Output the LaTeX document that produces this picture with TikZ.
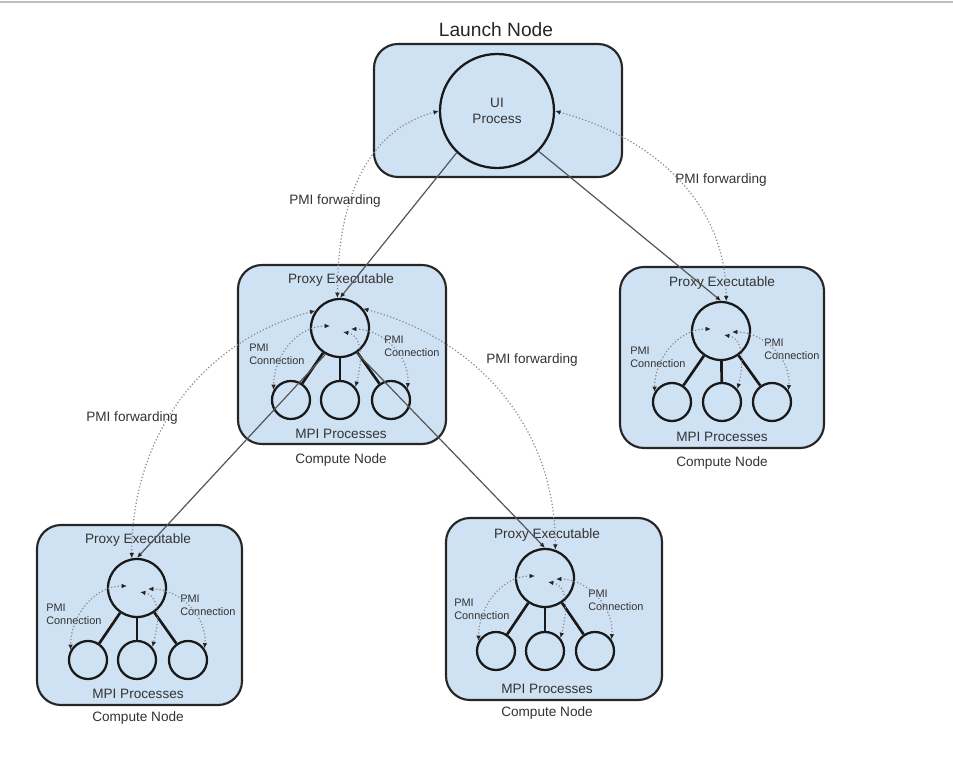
\documentclass[tikz,border=0pt]{standalone}
\usepackage{fontspec}
\setmainfont{Liberation Sans}
\usetikzlibrary{arrows.meta}
\definecolor{nodeblue}{HTML}{CFE2F3}
\definecolor{txtgray}{HTML}{333333}
\definecolor{linegray}{HTML}{555555}
\definecolor{dotgray}{HTML}{8A8A8A}

\begin{document}
\begin{tikzpicture}[x=0.75pt,y=-0.75pt,
  box/.style={draw=black!85,line width=1.6pt,rounded corners=18pt,fill=nodeblue},
  proc/.style={draw=black!90,line width=1.7pt,circle,inner sep=0pt,minimum size=#1},
  proc/.default=43.5pt,
  mpi/.style={proc=28.5pt},
  lbl/.style={text=txtgray,font=\fontsize{10.2}{12.5}\selectfont,inner sep=0pt},
  title/.style={text=black!85,font=\fontsize{14.4}{16}\selectfont,inner sep=0pt},
  small/.style={text=txtgray,font=\fontsize{8.2}{9.6}\selectfont,align=left,inner sep=0pt},
  conn/.style={draw=black!90,line width=2pt},
  launch/.style={draw=linegray,line width=0.9pt,-{Latex[length=4pt,width=3.5pt,color=black!85]}},
  fwd/.style={draw=dotgray,line width=0.9pt,dash pattern=on 0.9pt off 1.6pt,
    {Latex[length=4pt,width=3.5pt,color=black!85]}-{Latex[length=4pt,width=3.5pt,color=black!85]}},
  pmiconn/.style={fwd}]
\useasboundingbox (0,0) rectangle (953,763);
\draw[black!25,line width=0.8pt] (0,2) -- (953,2);

% launch node
\path[box] (374,44) rectangle (622,177);
\node[title] (launch) at (496,30) {Launch Node};
\node[proc=85.5pt,lbl,align=center] (ui) at (497,111) {UI\\Process};

% compute node, middle
\path[box] (238,265) rectangle (446,444);
\node[lbl] (proxyB) at (341,280) {Proxy Executable};
\node[proc] (pB) at (340,328) {};
\node[mpi] (mB1) at (291,400) {};
\node[mpi] (mB2) at (340,400) {};
\node[mpi] (mB3) at (391,400) {};
\node[lbl] (mpiB) at (341,434) {MPI Processes};
\node[lbl] (cnB) at (341,460) {Compute Node};
\node[small,anchor=west] (lcB) at (249,354) {PMI\\Connection};
\node[small,anchor=west] (rcB) at (384,346) {PMI\\Connection};

% compute node, right
\path[box] (620,267) rectangle (824,448);
\node[lbl] (proxyD) at (722,283) {Proxy Executable};
\node[proc] (pD) at (721,331) {};
\node[mpi] (mD1) at (672,402) {};
\node[mpi] (mD2) at (722,402) {};
\node[mpi] (mD3) at (772,402) {};
\node[lbl] (mpiD) at (722,437) {MPI Processes};
\node[lbl] (cnD) at (722,463) {Compute Node};
\node[small,anchor=west] (lcD) at (630,357) {PMI\\Connection};
\node[small,anchor=west] (rcD) at (764,349) {PMI\\Connection};

% compute node, bottom left
\path[box] (37,525) rectangle (242,705);
\node[lbl] (proxyC) at (138,540) {Proxy Executable};
\node[proc] (pC) at (137,588) {};
\node[mpi] (mC1) at (88,660) {};
\node[mpi] (mC2) at (137,660) {};
\node[mpi] (mC3) at (188,660) {};
\node[lbl] (mpiC) at (138,694) {MPI Processes};
\node[lbl] (cnC) at (138,718) {Compute Node};
\node[small,anchor=west] (lcC) at (46,614) {PMI\\Connection};
\node[small,anchor=west] (rcC) at (180,605) {PMI\\Connection};

% compute node, bottom right
\path[box] (446,518) rectangle (662,700);
\node[lbl] (proxyE) at (547,535) {Proxy Executable};
\node[proc] (pE) at (545,578) {};
\node[mpi] (mE1) at (496,651) {};
\node[mpi] (mE2) at (545,651) {};
\node[mpi] (mE3) at (595,651) {};
\node[lbl] (mpiE) at (547,689) {MPI Processes};
\node[lbl] (cnE) at (547,713) {Compute Node};
\node[small,anchor=west] (lcE) at (454,609) {PMI\\Connection};
\node[small,anchor=west] (rcE) at (588,600) {PMI\\Connection};

% proxy to MPI processes
\draw[conn] (pB) -- (mB1); \draw[conn] (pB) -- (mB2); \draw[conn] (pB) -- (mB3);
\draw[conn] (pD) -- (mD1); \draw[conn] (pD) -- (mD2); \draw[conn] (pD) -- (mD3);
\draw[conn] (pC) -- (mC1); \draw[conn] (pC) -- (mC2); \draw[conn] (pC) -- (mC3);
\draw[conn] (pE) -- (mE1); \draw[conn] (pE) -- (mE2); \draw[conn] (pE) -- (mE3);

% PMI connections
\draw[pmiconn] ([shift={(-10,-2)}]pB.center) to[out=180,in=90] (mB1.150);
\draw[pmiconn] ([shift={(3,4)}]pB.center) to[out=-10,in=75] (mB2.40);
\draw[pmiconn] ([shift={(11,1)}]pB.center) to[out=0,in=85] (mB3.35);
\draw[pmiconn] ([shift={(-10,-2)}]pD.center) to[out=180,in=90] (mD1.150);
\draw[pmiconn] ([shift={(3,4)}]pD.center) to[out=-10,in=75] (mD2.40);
\draw[pmiconn] ([shift={(11,1)}]pD.center) to[out=0,in=85] (mD3.35);
\draw[pmiconn] ([shift={(-10,-2)}]pC.center) to[out=180,in=90] (mC1.150);
\draw[pmiconn] ([shift={(3,4)}]pC.center) to[out=-10,in=75] (mC2.40);
\draw[pmiconn] ([shift={(11,1)}]pC.center) to[out=0,in=85] (mC3.35);
\draw[pmiconn] ([shift={(-10,-2)}]pE.center) to[out=180,in=90] (mE1.150);
\draw[pmiconn] ([shift={(3,4)}]pE.center) to[out=-10,in=75] (mE2.40);
\draw[pmiconn] ([shift={(11,1)}]pE.center) to[out=0,in=85] (mE3.35);

% launch connections
\draw[launch] (ui.226) -- (pB.north);
\draw[launch] (ui.316) -- (pD.north);
\draw[launch] (pB.241) -- (pC.north);
\draw[launch] (pB.304) -- (pE.north);

% PMI forwarding
\draw[fwd] (ui.west) to[out=195,in=90] (pB.95);
\draw[fwd] (ui.east) to[out=-15,in=90] (pD.80);
\draw[fwd] (pB.145) to[out=195,in=90] (pC.100);
\draw[fwd] (pB.40) to[out=-15,in=90] (pE.70);
\node[lbl] (fwdB) at (335,201) {PMI forwarding};
\node[lbl] (fwdD) at (721,180) {PMI forwarding};
\node[lbl] (fwdC) at (132,418) {PMI forwarding};
\node[lbl] (fwdE) at (532,360) {PMI forwarding};
\end{tikzpicture}
\end{document}
